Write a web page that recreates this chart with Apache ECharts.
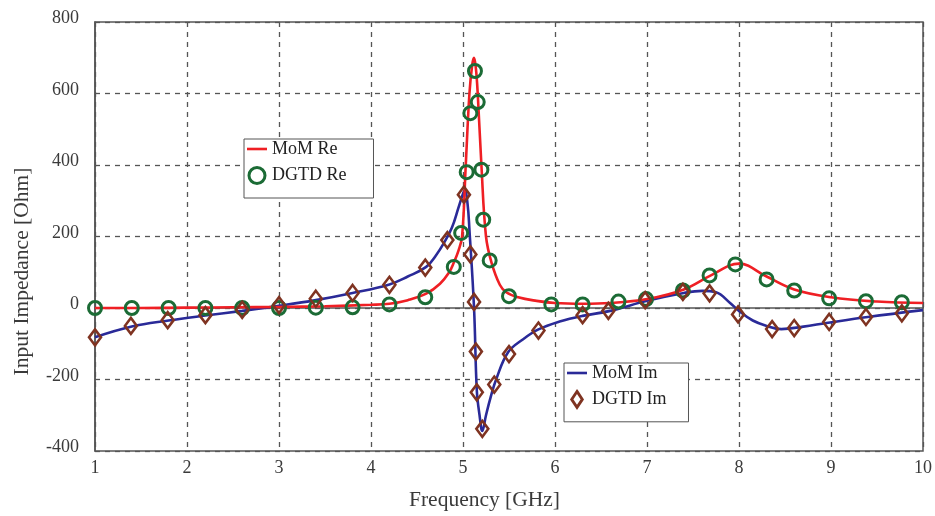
<!DOCTYPE html>
<html>
<head>
<meta charset="utf-8">
<script src="https://cdn.jsdelivr.net/npm/echarts@6/dist/echarts.min.js"></script>
<style>
  html, body { margin: 0; padding: 0; background: #fff; }
  #chart { width: 935px; height: 516px; }
</style>
</head>
<body>
<div id="chart"></div>
<script>
// MoM real part (solid red line)
const momReFreq = [1, 1.5, 2, 2.5, 3, 3.5, 4, 4.2, 4.4, 4.6, 4.75, 4.85, 4.9, 4.95, 4.99, 5.03, 5.07, 5.1, 5.12, 5.14, 5.16, 5.2, 5.25, 5.31, 5.4, 5.47, 5.6, 5.8, 6.0, 6.3, 6.6, 7.0, 7.4, 7.7, 8.0, 8.3, 8.6, 9.0, 9.5, 10]
const momRe = [0, 0, 1, 2, 3, 5, 9, 12, 22, 40, 68, 100, 127, 160, 200, 400, 600, 680, 700, 670, 600, 400, 200, 127, 65, 44, 30, 20, 14, 12, 14, 25, 52, 92, 124, 88, 52, 30, 18, 14]

// MoM imaginary part (solid blue line)
const momImFreq = [1, 1.4, 1.8, 2.2, 2.6, 3.0, 3.4, 3.8, 4.2, 4.4, 4.6, 4.7, 4.8, 4.88, 4.95, 5.0, 5.02, 5.05, 5.07, 5.12, 5.15, 5.18, 5.21, 5.25, 5.3, 5.36, 5.49, 5.65, 5.82, 6.05, 6.3, 6.6, 7.0, 7.4, 7.6, 7.75, 7.9, 8.0, 8.15, 8.3, 8.46, 8.7, 8.95, 9.4, 10]
const momIm = [-82, -52, -35, -21, -8, 6, 22, 42, 66, 88, 115, 145, 185, 225, 280, 320, 330, 290, 219, 0, -230, -300, -344, -300, -250, -200, -124, -88, -60, -38, -22, -8, 20, 42, 48, 44, 15, -8, -35, -50, -59, -52, -42, -25, -6]

// DGTD real part (green circles)
const dgtdReFreq = [1, 1.4, 1.8, 2.2, 2.6, 3.0, 3.4, 3.8, 4.2, 4.59, 4.9, 4.98, 5.04, 5.08, 5.13, 5.16, 5.2, 5.22, 5.29, 5.5, 5.96, 6.3, 6.69, 6.99, 7.39, 7.68, 7.96, 8.3, 8.6, 8.98, 9.38, 9.77]
const dgtdRe = [0, 0, 0, 0, 0, 0, 1, 2, 10, 30, 115, 210, 380, 545, 663, 576, 387, 247, 133, 33, 10, 10, 18, 25, 49, 91, 122, 80, 49, 27, 19, 16]

// DGTD imaginary part (brown diamonds)
const dgtdImFreq = [1, 1.39, 1.79, 2.2, 2.6, 3.0, 3.4, 3.8, 4.2, 4.59, 4.83, 5.01, 5.08, 5.12, 5.14, 5.15, 5.21, 5.34, 5.5, 5.82, 6.3, 6.58, 6.98, 7.39, 7.68, 7.99, 8.36, 8.6, 8.98, 9.38, 9.77]
const dgtdIm = [-82, -50, -34, -20, -5, 8, 26, 42, 65, 113, 190, 317, 150, 17, -122, -236, -338, -214, -129, -63, -20, -8, 22, 45, 41, -18, -59, -56, -39, -25, -15]

const xTicks = { min: 1, max: 10, interval: 1 }
const yTicks = { min: -400, max: 800, interval: 200 }

const zip = (xs, ys) => xs.map((x, i) => [x, ys[i]])

const fontFamily = '"Liberation Serif", "DejaVu Serif", serif'
const textColor = '#3a3a3a'
const frameColor = '#555555'

const RED = '#ef1f24'
const BLUE = '#2a2a98'
const GREEN = '#1b6b35'
const BROWN = '#7f3321'

const chart = echarts.init(document.getElementById('chart'))

const lineIcon = 'path://M0,0h20v2.6h-20z'
const diamondIcon = 'path://M6,0L12,9L6,18L0,9Z'

const legendBase = {
  orient: 'vertical',
  backgroundColor: '#fff',
  borderColor: frameColor,
  borderWidth: 1,
  itemGap: 8,
  itemWidth: 20,
  itemHeight: 16,
  textStyle: { fontFamily, fontSize: 18, color: '#222' }
}

const option = {
  animation: false,
  backgroundColor: '#fff',
  grid: {
    left: 95, right: 7, top: 22, bottom: 64,
    show: true,
    borderColor: frameColor,
    borderWidth: 1.5
  },
  legend: [
    Object.assign({}, legendBase, {
      left: 244, top: 139,
      padding: [1, 27, 13, 3],
      data: [
        { name: 'MoM Re', icon: lineIcon, itemStyle: { color: RED } },
        { name: 'DGTD Re', icon: 'circle', itemStyle: { color: '#fff', borderColor: GREEN, borderWidth: 3 } }
      ]
    }),
    Object.assign({}, legendBase, {
      left: 564, top: 363,
      padding: [1, 22, 13, 3],
      data: [
        { name: 'MoM Im', icon: lineIcon, itemStyle: { color: BLUE } },
        { name: 'DGTD Im', icon: diamondIcon, itemStyle: { color: '#fff', borderColor: BROWN, borderWidth: 2.8 } }
      ]
    })
  ],
  xAxis: {
    type: 'value',
    min: xTicks.min, max: xTicks.max, interval: xTicks.interval,
    name: 'Frequency [GHz]',
    nameLocation: 'middle',
    nameGap: 38,
    nameTextStyle: { fontFamily, fontSize: 21.5, color: textColor, padding: [0, 49, 0, 0] },
    axisLine: { show: true, lineStyle: { color: frameColor, width: 1.5 } },
    axisTick: { show: true, inside: true, length: 5, lineStyle: { color: frameColor } },
    axisLabel: { fontFamily, fontSize: 18, color: textColor, margin: 8 },
    splitLine: { show: true, lineStyle: { color: frameColor, type: [5, 5], width: 1.3 } }
  },
  yAxis: {
    type: 'value',
    min: yTicks.min, max: yTicks.max, interval: yTicks.interval,
    name: 'Input Impedance [Ohm]',
    nameLocation: 'middle',
    nameGap: 62,
    nameTextStyle: { fontFamily, fontSize: 21.5, color: textColor, padding: [0, 70, 0, 0] },
    axisLine: { show: true, lineStyle: { color: frameColor, width: 1.5 } },
    axisTick: { show: true, inside: true, length: 5, lineStyle: { color: frameColor } },
    axisLabel: { fontFamily, fontSize: 18, color: textColor, margin: 16, verticalAlign: 'bottom', lineHeight: 7 },
    splitLine: { show: true, lineStyle: { color: frameColor, type: [5, 5], width: 1.3 } }
  },
  series: [
    {
      name: 'MoM Im',
      type: 'line',
      data: zip(momImFreq, momIm),
      showSymbol: false,
      smooth: 0.4,
      itemStyle: { color: BLUE },
      lineStyle: { color: BLUE, width: 2.6 },
      z: 2
    },
    {
      name: 'MoM Re',
      type: 'line',
      data: zip(momReFreq, momRe),
      showSymbol: false,
      smooth: 0.4,
      itemStyle: { color: RED },
      lineStyle: { color: RED, width: 2.6 },
      z: 3
    },
    {
      name: 'DGTD Re',
      type: 'scatter',
      data: zip(dgtdReFreq, dgtdRe),
      symbol: 'circle',
      symbolSize: 13,
      itemStyle: { color: 'rgba(255,255,255,0)', borderColor: GREEN, borderWidth: 3, opacity: 1 },
      z: 4
    },
    {
      name: 'DGTD Im',
      type: 'scatter',
      data: zip(dgtdImFreq, dgtdIm),
      symbol: 'diamond',
      symbolSize: [12, 16],
      itemStyle: { color: 'rgba(255,255,255,0)', borderColor: BROWN, borderWidth: 2.6, opacity: 1 },
      z: 5
    }
  ]
}

chart.setOption(option)
</script>
</body>
</html>
